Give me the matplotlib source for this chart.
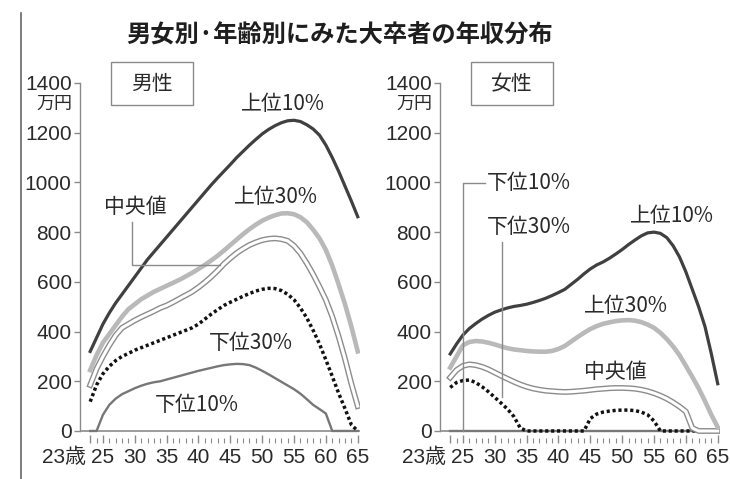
import matplotlib
matplotlib.use('Agg')
import matplotlib.pyplot as plt
from matplotlib import font_manager
from matplotlib.patches import Rectangle
from matplotlib.lines import Line2D
from matplotlib.transforms import ScaledTranslation, blended_transform_factory

plt.rcParams['font.family'] = ['Noto Sans CJK JP', 'DejaVu Sans']

# 年齢 23〜65歳 (1歳刻み), 単位: 万円
ages = list(range(23, 66))

men_top10 = [320, 375, 430, 475, 515, 550, 585, 620, 655, 690,
             720, 750, 780, 810, 840, 870, 900, 930, 960, 990,
             1018, 1045, 1072, 1100, 1125, 1150, 1173, 1195, 1213, 1228,
             1240, 1248, 1250, 1245, 1232, 1215, 1190, 1150, 1100, 1045,
             985, 925, 862]
men_top30 = [245, 305, 355, 390, 425, 460, 490, 510, 530, 545,
             560, 572, 584, 596, 608, 622, 636, 652, 668, 686,
             705, 726, 748, 770, 792, 812, 830, 846, 858, 868,
             875, 876, 872, 860, 840, 810, 775, 728, 665, 590,
             510, 420, 320]
men_median = [185, 250, 300, 345, 385, 415, 430, 445, 458, 470,
              482, 495, 505, 518, 532, 546, 560, 578, 598, 620,
              645, 672, 695, 716, 733, 748, 759, 768, 773, 775,
              772, 765, 745, 715, 675, 630, 580, 527, 460, 380,
              290, 190, 100]
men_bottom30 = [118, 185, 230, 260, 283, 300, 312, 325, 335, 345,
                355, 365, 375, 385, 395, 405, 415, 430, 450, 470,
                488, 505, 518, 530, 542, 553, 563, 570, 574, 573,
                565, 550, 528, 495, 455, 405, 350, 286, 220, 152,
                90, 25, 0]
men_bottom10 = [0, 0, 65, 105, 130, 148, 160, 172, 182, 190,
                196, 200, 207, 214, 221, 228, 235, 242, 248, 254,
                260, 265, 268, 270, 269, 265, 255, 242, 228, 213,
                198, 183, 168, 150, 128, 105, 88, 70, 0, 0,
                0, 0, 0]

women_top10 = [310, 350, 386, 412, 432, 450, 465, 478, 487, 495,
               501, 505, 510, 517, 525, 534, 545, 557, 570, 590,
               610, 632, 652, 668, 680, 695, 712, 730, 750, 768,
               785, 797, 800, 795, 778, 745, 700, 640, 570, 500,
               420, 310, 190]
women_top30 = [255, 300, 345, 358, 362, 360, 355, 348, 340, 333,
               328, 325, 322, 320, 319, 319, 322, 330, 342, 360,
               378, 395, 410, 422, 431, 437, 442, 445, 446, 444,
               438, 428, 415, 395, 370, 340, 305, 262, 218, 172,
               120, 65, 15]
women_median = [215, 245, 262, 268, 265, 258, 248, 235, 222, 210,
                198, 187, 178, 171, 166, 162, 160, 158, 157, 158,
                160, 162, 165, 168, 170, 172, 173, 173, 172, 170,
                166, 160, 152, 142, 130, 115, 98, 78, 12, 0,
                0, 0, 0]
women_bottom30 = [175, 195, 203, 205, 195, 178, 158, 135, 112, 88,
                  58, 12, 0, 0, 0, 0, 0, 0, 0, 0,
                  0, 0, 50, 68, 76, 80, 83, 84, 84, 82,
                  76, 65, 40, 0, 0, 0, 0, 0, 0, 0,
                  0, 0, 0]
women_bottom10 = [0, 0, 0, 0, 0, 0, 0, 0, 0, 0,
                  0, 0, 0, 0, 0, 0, 0, 0, 0, 0,
                  0, 0, 0, 0, 0, 0, 0, 0, 0, 0,
                  0, 0, 0, 0, 0, 0, 0, 0, 0, 0,
                  0, 0, 0]

yticks = [0, 200, 400, 600, 800, 1000, 1200, 1400]
xticks = [23, 25, 30, 35, 40, 45, 50, 55, 60, 65]
xticklabels = ['23歳', '25', '30', '35', '40', '45', '50', '55', '60', '65']

# 数字用フォント (細めがあればそれを使う)
installed = {f.name for f in font_manager.fontManager.ttflist}
num_font = 'Liberation Sans Narrow' if 'Liberation Sans Narrow' in installed else 'Liberation Sans'
num_family = [num_font, 'Noto Sans CJK JP']

INK = '#2a2a2a'
GRID = '#8a8a8a'
W, H = 730, 479

fig = plt.figure(figsize=(7.3, 4.79), dpi=100)
fig.patch.set_facecolor('white')


def make_axes(x0):
    # 1歳 ≒ 6.37px, 0〜1400万円 ≒ 348px
    x1 = x0 + (65.3 - 21.4) * 6.37
    return fig.add_axes([x0 / W, 1 - 443.4 / H, (x1 - x0) / W, (443.4 - 83) / H])


def draw_panel(ax, top10, top30, median, bottom30, bottom10, title):
    ax.set_xlim(21.4, 65.3)
    ax.set_ylim(-50, 1400)
    for s in ['top', 'right', 'bottom']:
        ax.spines[s].set_visible(False)
    ax.spines['left'].set_bounds(0, 1400)
    ax.spines['left'].set_color(GRID)
    ax.spines['left'].set_linewidth(1.0)

    ax.axhline(0, color=GRID, lw=1.2, zorder=1)

    ax.plot(ages, bottom10, color='#777777', lw=1.7, zorder=2)
    ax.plot(ages, bottom30, color='#111111', lw=2.5, linestyle=(0, (0.9, 0.8)), zorder=3)
    ax.plot(ages, median, color='#8c8c8c', lw=4.2, zorder=4)
    ax.plot(ages, median, color='white', lw=2.2, zorder=4)
    ax.plot(ages, top30, color='#b9b9b9', lw=3.3, zorder=5)
    ax.plot(ages, top10, color='#404040', lw=2.3, zorder=6)

    ax.set_yticks(yticks)
    ax.set_yticklabels([str(v) for v in yticks], family=num_family, fontsize=15, color=INK)
    ax.tick_params(axis='y', direction='out', length=4, width=1, color=GRID, pad=2)

    ax.set_xticks(xticks)
    ax.set_xticks(ages, minor=True)
    ax.set_xticklabels(xticklabels, family=num_family, fontsize=15, color=INK)
    ax.tick_params(axis='x', which='major', direction='in', length=6, width=1, color=GRID, pad=3)
    ax.tick_params(axis='x', which='minor', direction='in', length=3.5, width=0.8, color=GRID)
    first = ax.get_xticklabels()[0]
    first.set_horizontalalignment('right')
    first.set_transform(first.get_transform() + ScaledTranslation(-3 / 72, 0, fig.dpi_scale_trans))

    yx = blended_transform_factory(ax.transAxes, ax.transData)
    ax.text(-0.028, 1315, '万円', transform=yx, ha='right', va='center',
            fontsize=13, color=INK, clip_on=False)

    ax.add_patch(Rectangle((26.2, 1311), 13.0, 173, transform=ax.transData,
                           facecolor='white', edgecolor=GRID, lw=1.0, clip_on=False, zorder=7))
    ax.text(32.7, 1397, title, ha='center', va='center', fontsize=15, color=INK, zorder=8)


ax_m = make_axes(80)
draw_panel(ax_m, men_top10, men_top30, men_median, men_bottom30, men_bottom10, '男性')

lbl = dict(ha='center', va='center', fontsize=15, color=INK, zorder=8)
ax_m.text(53.2, 1315, '上位10%', **lbl)
ax_m.text(52.2, 941, '上位30%', **lbl)
ax_m.text(30.1, 901, '中央値', **lbl)
ax_m.text(48.2, 354, '下位30%', **lbl)
ax_m.text(39.8, 105, '下位10%', **lbl)
ax_m.plot([29.6, 29.6, 43.4], [842, 668, 668], color=GRID, lw=1.0, zorder=7)

ax_w = make_axes(440)
draw_panel(ax_w, women_top10, women_top30, women_median, women_bottom30, women_bottom10, '女性')

ax_w.text(28.8, 998, '下位10%', ha='left', va='center', fontsize=15, color=INK, zorder=8)
ax_w.plot([25, 25, 28.4], [0, 998, 998], color=GRID, lw=1.0, zorder=7)
ax_w.text(28.8, 821, '下位30%', ha='left', va='center', fontsize=15, color=INK, zorder=8)
ax_w.plot([31.2, 31.2], [135, 760], color=GRID, lw=1.0, zorder=7)
ax_w.text(57.8, 865, '上位10%', **lbl)
ax_w.text(50.6, 503, '上位30%', **lbl)
ax_w.text(48.9, 237, '中央値', **lbl)

fig.text(340 / W, 1 - 36 / H, '男女別·年齢別にみた大卒者の年収分布',
         ha='center', va='center', fontsize=17.5, fontweight='bold', color='#1e1e1e')

# 左端の囲み線
fig.add_artist(Line2D([21 / W, 21 / W], [0, 1 - 13 / H], transform=fig.transFigure,
                      color='#666666', lw=1.2))

fig.savefig('out.png', dpi=100, facecolor='white')
